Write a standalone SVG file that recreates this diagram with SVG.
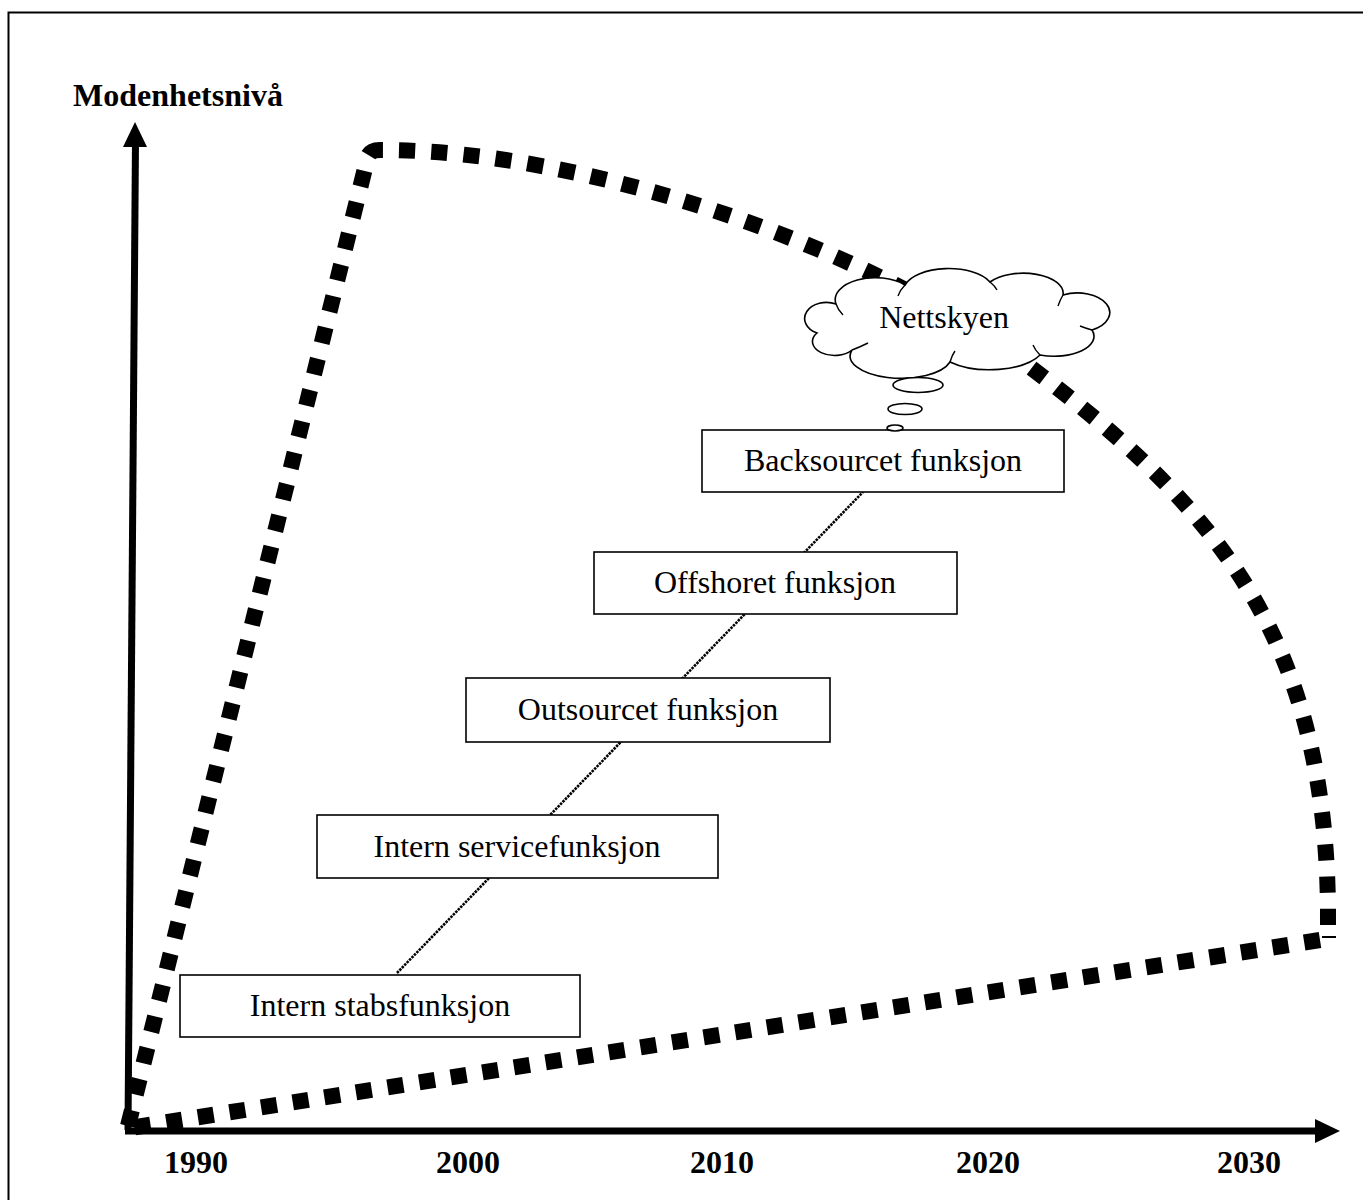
<svg xmlns="http://www.w3.org/2000/svg" width="1363" height="1200" viewBox="0 0 1363 1200">
<style>
.box{fill:#fff;stroke:#000;stroke-width:1.6}
.lbl{font-family:"Liberation Serif","Times New Roman",serif;font-size:32px;fill:#000;text-anchor:middle}
.bold{font-weight:bold}
.dash{fill:none;stroke:#000;stroke-width:16;stroke-dasharray:16 16}
.axis{stroke:#000;stroke-width:7;fill:none}
</style>
<rect x="8.5" y="12.5" width="1400" height="1250" fill="#fff" stroke="#000" stroke-width="2"/>
<g id="connectors">
<line x1="397" y1="973" x2="863" y2="492" stroke="#000" stroke-width="2.6" stroke-dasharray="2.5 1"/>
<path class="dash" pathLength="2352" d="M128 1126 L368 156 Q371 150 380 150 C590 150 860 247 1010 352 C1210 500 1330 630 1328 925"/>
<path class="dash" d="M1320 940 L130 1128"/>
<line x1="1322" y1="937" x2="1336" y2="937" stroke="#000" stroke-width="2"/>
</g>
<g id="y-axis">
<line class="axis" x1="128" y1="1130" x2="135.5" y2="140"/>
<polygon points="135,122 123,147 147,147" fill="#000"/>
<text class="lbl bold" x="178" y="106">Modenhetsnivå</text>
</g>
<g id="x-axis">
<line class="axis" x1="125" y1="1131" x2="1320" y2="1131"/>
<polygon points="1315,1119 1340,1131 1315,1143" fill="#000"/>
<text class="lbl bold" x="196" y="1173">1990</text>
<text class="lbl bold" x="468" y="1173">2000</text>
<text class="lbl bold" x="722" y="1173">2010</text>
<text class="lbl bold" x="988" y="1173">2020</text>
<text class="lbl bold" x="1249" y="1173">2030</text>
</g>
<g id="node-intern-stabsfunksjon">
<rect class="box" x="180" y="975" width="400" height="62"/>
<text class="lbl" x="380" y="1016">Intern stabsfunksjon</text>
</g>
<g id="node-intern-servicefunksjon">
<rect class="box" x="317" y="815" width="401" height="63"/>
<text class="lbl" x="517" y="857">Intern servicefunksjon</text>
</g>
<g id="node-outsourcet">
<rect class="box" x="466" y="678" width="364" height="64"/>
<text class="lbl" x="648" y="720">Outsourcet funksjon</text>
</g>
<g id="node-offshoret">
<rect class="box" x="594" y="552" width="363" height="62"/>
<text class="lbl" x="775" y="593">Offshoret funksjon</text>
</g>
<g id="node-backsourcet">
<rect class="box" x="702" y="430" width="362" height="62"/>
<text class="lbl" x="883" y="471">Backsourcet funksjon</text>
</g>
<g id="node-nettskyen">
<path d="M817 333 A19 14 0 0 1 836 304 A40 22 0 0 1 905 285 A45 22 0 0 1 990 282 A40 20 0 0 1 1063 295 A28 17 0 0 1 1092 330 A40 20 0 0 1 1040 355 A55 25 0 0 1 950 362 A50 22 0 0 1 852 350 A22 14 0 0 1 817 333 Z" fill="#fff" stroke="#000" stroke-width="1.6"/>
<path d="M836 304 Q838 310 843 315 M905 285 Q900 290 898 296 M990 282 Q995 286 997 290 M1063 295 Q1060 300 1058 306 M1092 330 Q1085 328 1080 326 M1040 355 Q1035 350 1033 345 M950 362 Q952 355 955 351 M852 350 Q860 347 868 343" fill="none" stroke="#000" stroke-width="1.4"/>
<text class="lbl" x="944" y="328">Nettskyen</text>
<ellipse cx="918" cy="385" rx="25" ry="7.5" fill="#fff" stroke="#000" stroke-width="1.6"/>
<ellipse cx="905" cy="409" rx="17" ry="5.5" fill="#fff" stroke="#000" stroke-width="1.6"/>
<ellipse cx="895" cy="428" rx="8" ry="3" fill="#fff" stroke="#000" stroke-width="1.6"/>
</g>
</svg>
